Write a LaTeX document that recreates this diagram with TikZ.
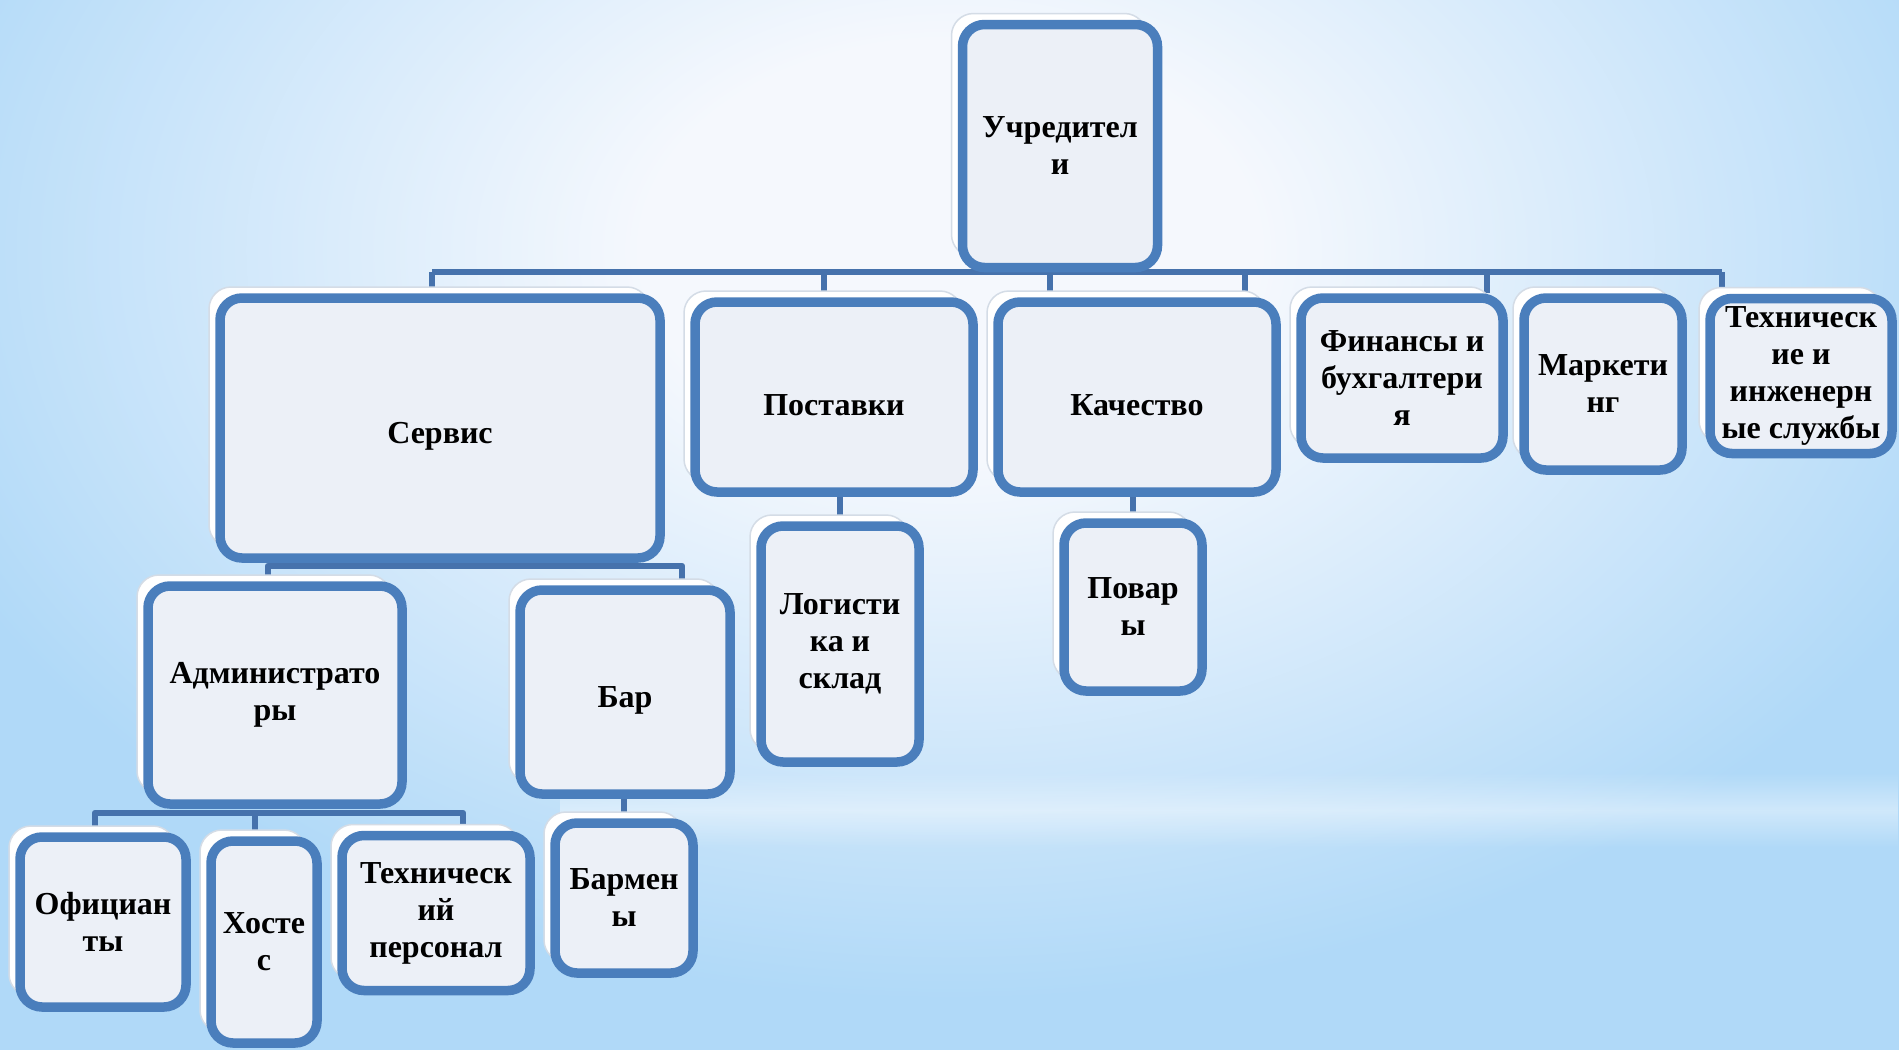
\documentclass[tikz,border=0pt]{standalone}
\usepackage{fontspec}
\setmainfont{Liberation Serif}
\usetikzlibrary{fadings}
\definecolor{frameblue}{RGB}{74,126,188}
\definecolor{linkblue}{RGB}{70,114,172}
\definecolor{boxfill}{RGB}{236,240,247}
\definecolor{halogray}{RGB}{212,220,230}
\definecolor{bglight}{RGB}{245,248,253}
\definecolor{bgblue}{RGB}{176,217,248}
\pgfdeclareradialshading{skyglow}{\pgfpoint{0bp}{0bp}}{color(0bp)=(bglight); color(7bp)=(bglight); color(25bp)=(bgblue); color(50bp)=(bgblue)}
\tikzfading[name = glowband, top color = transparent!100, bottom color = transparent!100, middle color = transparent!60]
\pgfdeclarelayer{back}
\pgfdeclarelayer{wires}
\pgfsetlayers{back,wires,main}
\def \boxfont {\fontsize{32}{37}\selectfont\bfseries}
\def \framewidth {9.5pt}
\tikzset{
  unit/.style = {draw = frameblue, line width = \framewidth, rounded corners = 22pt, fill = boxfill, align = center, inner sep = 0pt, font = \boxfont,
    execute at begin node = {\rule{0pt}{38pt}},
    preaction = {draw = halogray, line width = 1.5pt, fill = white, transform canvas = {shift = {(-11pt, 11pt)}}}},
  link/.style = {draw = linkblue, line width = 6.5pt, line join = round}
}

\begin{document}
\begin{tikzpicture}[x = 1pt, y = -1pt]
\useasboundingbox (0, 0) rectangle (1899, 1050);

\begin{pgfonlayer}{back}
\clip (0, 0) rectangle (1899, 1050);
\fill[bgblue] (0, 0) rectangle (1899, 1050);
\shade[shading = skyglow] (-150, -500) rectangle (2050, 1000);
\fill[white, path fading = glowband, fit fading = true] (560, 772) rectangle (1899, 848);
\end{pgfonlayer}

\node (found) [unit, minimum width = 195pt, minimum height = 243pt] at (1060, 146) {Учредител\\и};

\node (serv) [unit, minimum width = 440pt, minimum height = 260pt] at (440, 428) {Сервис};
\node (post) [unit, minimum width = 278pt, minimum height = 190pt] at (834, 397) {Поставки};
\node (qual) [unit, minimum width = 278pt, minimum height = 190pt] at (1137, 397) {Качество};
\node (fin) [unit, minimum width = 202pt, minimum height = 160pt] at (1402, 378) {Финансы и\\бухгалтери\\я};
\node (mark) [unit, minimum width = 158pt, minimum height = 172pt] at (1603, 384) {Маркети\\нг};
\node (tech) [unit, minimum width = 182pt, minimum height = 155pt] at (1801, 376) {Техническ\\ие и\\инженерн\\ые службы};

\node (log) [unit, minimum width = 158pt, minimum height = 236pt] at (840, 644) {Логисти\\ка и\\склад};
\node (cook) [unit, minimum width = 138pt, minimum height = 168pt] at (1133, 607) {Повар\\ы};

\node (admin) [unit, minimum width = 254pt, minimum height = 218pt] at (275, 695) {Администрато\\ры};
\node (bar) [unit, minimum width = 210pt, minimum height = 204pt] at (625, 692) {Бар};

\node (waiter) [unit, minimum width = 166pt, minimum height = 170pt] at (103, 922) {Официан\\ты};
\node (host) [unit, minimum width = 106pt, minimum height = 202pt] at (264, 942) {Хосте\\с};
\node (staff) [unit, minimum width = 188pt, minimum height = 155pt] at (436, 913) {Техническ\\ий\\персонал};
\node (barmen) [unit, minimum width = 138pt, minimum height = 150pt] at (624, 898) {Бармен\\ы};

\begin{pgfonlayer}{wires}
\coordinate (t1) at (432, 272);
\coordinate (t2) at (824, 272);
\coordinate (t3) at (1050, 272);
\coordinate (t4) at (1245, 272);
\coordinate (t5) at (1487, 272);
\coordinate (t6) at (1722, 272);
\draw[link] (t1) -- (t6);
\draw[link] (t1) -- (t1 |- serv.north);
\draw[link] (t2) -- (t2 |- post.north);
\draw[link] (t3) -- (t3 |- qual.north);
\draw[link] (t4) -- (t4 |- fin.north);
\draw[link] (t5) -- (t5 |- mark.north);
\draw[link] (t6) -- (t6 |- tech.north);

\coordinate (s1) at (268, 566);
\coordinate (s2) at (682, 566);
\draw[link] (s1 |- admin.north) -- (s1) -- (s2) -- (s2 |- bar.north);

\coordinate (a1) at (95, 813);
\coordinate (a2) at (255, 813);
\coordinate (a3) at (463, 813);
\draw[link] (a1 |- waiter.north) -- (a1) -- (a3) -- (a3 |- staff.north);
\draw[link] (a2) -- (a2 |- host.north);

\draw[link] (post.south -| log.north) -- (log.north);
\draw[link] (qual.south -| cook.north) -- (cook.north);
\draw[link] (bar.south -| barmen.north) -- (barmen.north);
\end{pgfonlayer}

\end{tikzpicture}
\end{document}
